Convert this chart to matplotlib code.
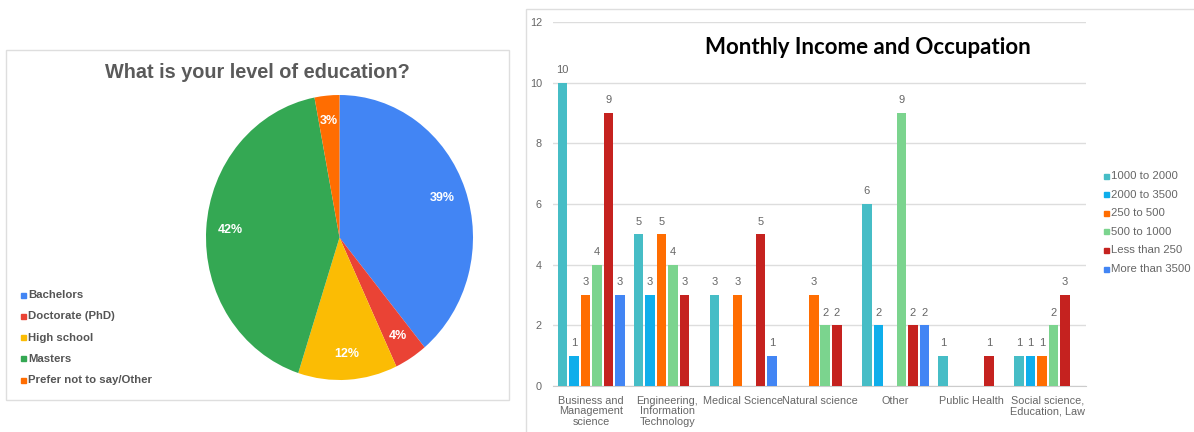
import numpy as np
import matplotlib.pyplot as plt
from matplotlib.patches import Rectangle

# pie data
edu_labels = ["Bachelors", "Doctorate (PhD)", "High school", "Masters", "Prefer not to say/Other"]
edu_pct = [39, 4, 12, 42, 3]
edu_colors = ["#4285F4", "#EA4335", "#FBBC04", "#34A853", "#FF6D01"]

# bar data
occupations = [
    "Business and\nManagement\nscience",
    "Engineering,\nInformation\nTechnology",
    "Medical Science",
    "Natural science",
    "Other",
    "Public Health",
    "Social science,\nEducation, Law",
]
income_groups = ["1000 to 2000", "2000 to 3500", "250 to 500", "500 to 1000", "Less than 250", "More than 3500"]
inc_1000_2000 = [10, 5, 3, 0, 6, 1, 1]
inc_2000_3500 = [1, 3, 0, 0, 2, 0, 1]
inc_250_500 = [3, 5, 3, 3, 0, 0, 1]
inc_500_1000 = [4, 4, 0, 2, 9, 0, 2]
inc_less_250 = [9, 3, 5, 2, 2, 1, 3]
inc_more_3500 = [3, 0, 1, 0, 2, 0, 0]
income_colors = ["#46BDC6", "#0FAEEB", "#FF6D01", "#7BD48E", "#C5221F", "#4285F4"]

W, H = 1194, 432
fig = plt.figure(figsize=(W / 100, H / 100), dpi=100)


def rect(x0, y0, x1, y1):
    # pixel box (top-left origin) -> figure fraction
    return [x0 / W, 1 - y1 / H, (x1 - x0) / W, (y1 - y0) / H]


# panel borders
fig.patches.append(Rectangle((6 / W, 1 - 400 / H), 503 / W, 350 / H, transform=fig.transFigure,
                             fill=False, edgecolor="#dedede", linewidth=1))
fig.patches.append(Rectangle((526 / W, -0.05), 700 / W, 1.05 - 9 / H, transform=fig.transFigure,
                             fill=False, edgecolor="#dedede", linewidth=1))

# ---- pie ----
ax1 = fig.add_axes(rect(206, 95, 473, 380))
wedges, _, autotexts = ax1.pie(
    edu_pct, colors=edu_colors, startangle=90, counterclock=False,
    autopct="%d%%", pctdistance=0.82,
    textprops=dict(color="white", fontweight="bold", fontsize=9, family="Liberation Sans"),
)
ax1.set_aspect("auto")
ax1.set_xlim(-1, 1)
ax1.set_ylim(-1, 1)
fig.text(257 / W, 1 - 73 / H, "What is your level of education?", ha="center", va="center",
         fontsize=14.3, fontweight="bold", color="#5a5a5a", family="Liberation Sans")
for i, (lab, col) in enumerate(zip(edu_labels, edu_colors)):
    y = 1 - (295 + i * 21.3) / H
    fig.patches.append(Rectangle((21 / W, y - 2.5 / H), 5 / W, 5 / H, transform=fig.transFigure,
                                 color=col))
    fig.text(28 / W, y, lab, ha="left", va="center", fontsize=8.2, fontweight="bold",
             color="#555555", family="Liberation Sans")

# ---- bars ----
ax2 = fig.add_axes(rect(553, 22, 1086, 386))
series = [inc_1000_2000, inc_2000_3500, inc_250_500, inc_500_1000, inc_less_250, inc_more_3500]
x = np.arange(len(occupations))
slot = 0.151
bw = 0.125
for k, (vals, col, name) in enumerate(zip(series, income_colors, income_groups)):
    pos = x + (k - 2.5) * slot
    vals = np.array(vals)
    mask = vals > 0
    ax2.bar(pos[mask], vals[mask], width=bw, color=col, label=name, zorder=3)
    for px, v in zip(pos[mask], vals[mask]):
        ax2.text(px, v + 0.25, str(v), ha="center", va="bottom", fontsize=8,
                 color="#666666", family="Liberation Sans")

ax2.set_xlim(-0.5, len(occupations) - 0.5)
ax2.set_ylim(0, 12)
ax2.set_yticks(range(0, 13, 2))
ax2.set_xticks(x)
ax2.set_xticklabels(occupations, fontsize=7.8, color="#666666", family="Liberation Sans",
                    linespacing=1.05)
ax2.tick_params(axis="y", labelsize=7.8, labelcolor="#666666", length=0, pad=8)
ax2.tick_params(axis="x", length=0, pad=7)
for lab in ax2.get_yticklabels():
    lab.set_family("Liberation Sans")
ax2.grid(axis="y", color="#dddddd", linewidth=1, zorder=0)
for s in ["top", "right", "left"]:
    ax2.spines[s].set_visible(False)
ax2.spines["bottom"].set_color("#cccccc")

fig.text(868 / W, 1 - 48 / H, "Monthly Income and Occupation", ha="center", va="center",
         fontsize=16, fontweight="bold", color="black", family="Lato")

for i, (lab, col) in enumerate(zip(income_groups, income_colors)):
    y = 1 - (176 + i * 18.6) / H
    fig.patches.append(Rectangle((1104 / W, y - 2.5 / H), 5 / W, 5 / H, transform=fig.transFigure,
                                 color=col))
    fig.text(1111 / W, y, lab, ha="left", va="center", fontsize=8.2, color="#666666",
             family="Liberation Sans")

fig.savefig("out.png", dpi=100)
